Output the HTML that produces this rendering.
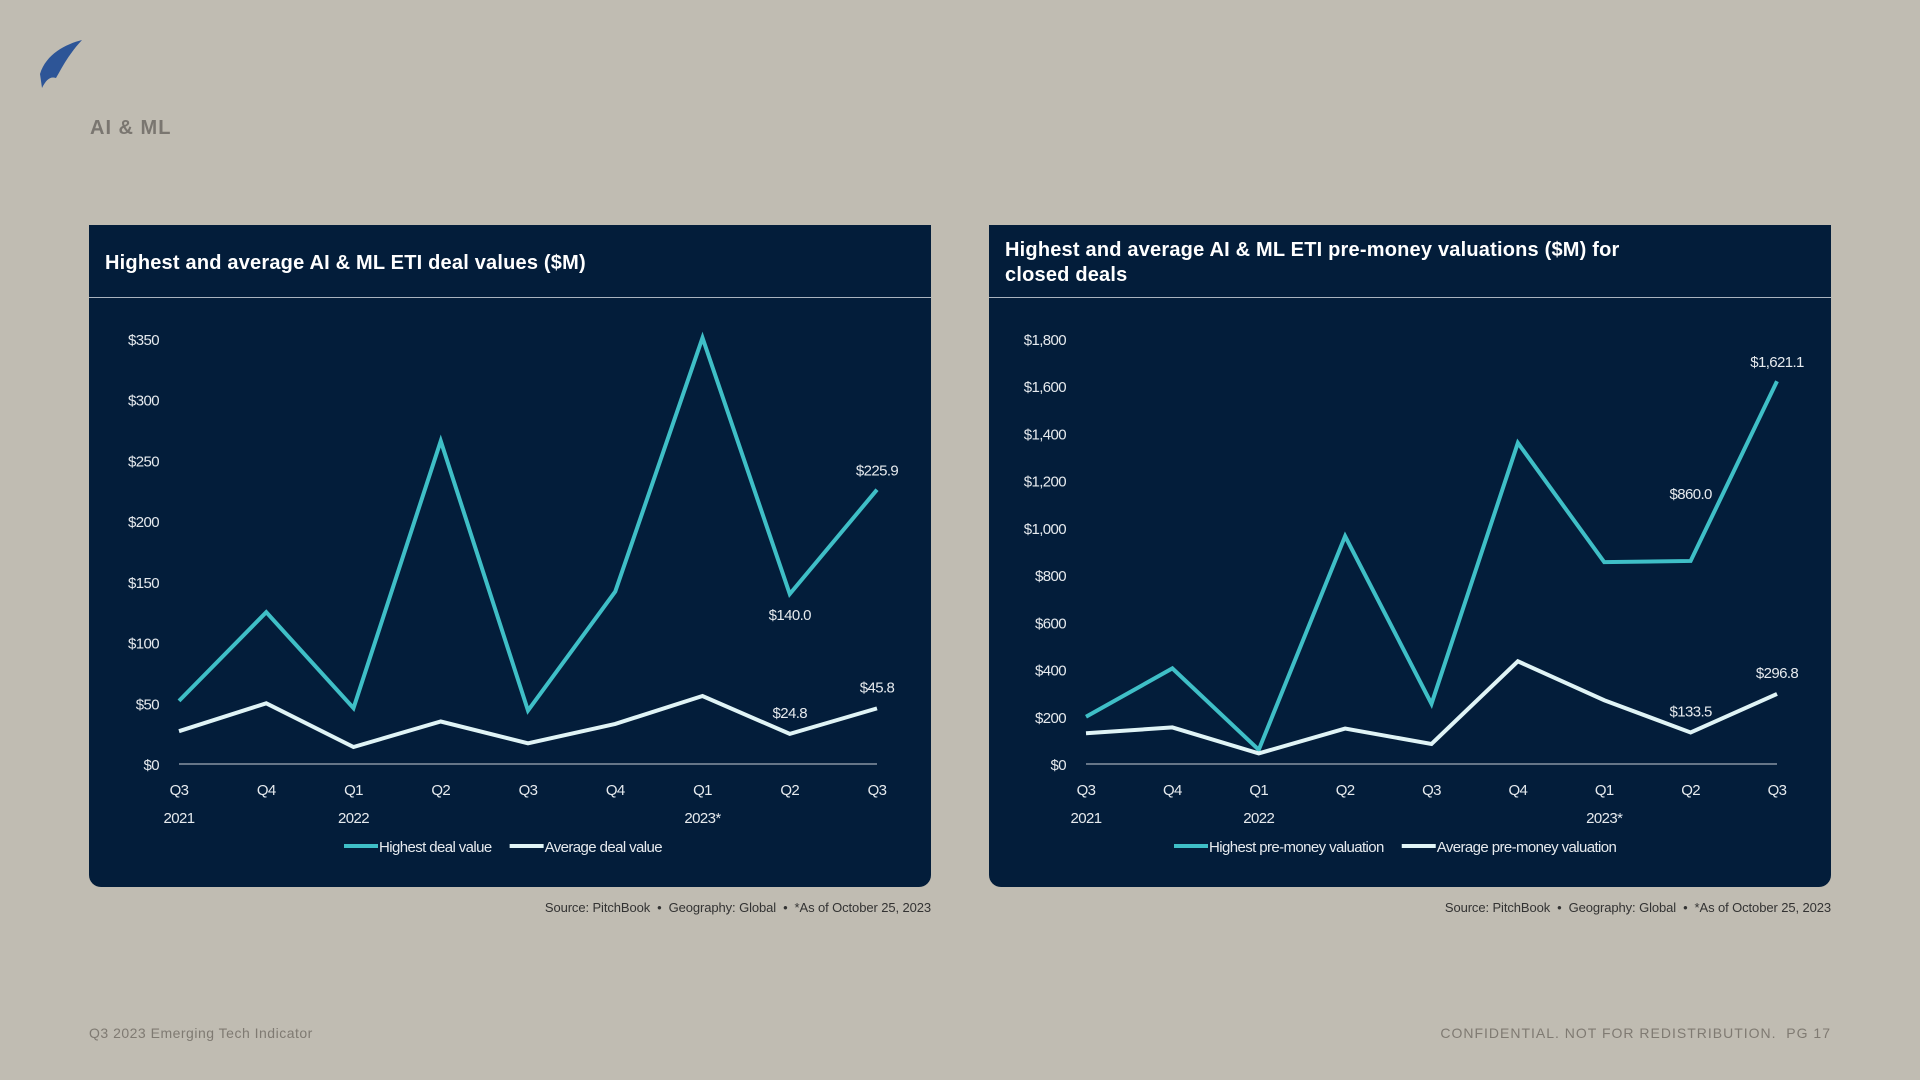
<!DOCTYPE html>
<html><head><meta charset="utf-8"><style>
body{margin:0;width:1920px;height:1080px;background:#c0bcb2;position:relative;overflow:hidden;font-family:"Liberation Sans",sans-serif}
.abs{position:absolute}
.panel{position:absolute;top:225px;width:842px;height:662px;background:#031d3a;border-radius:0 0 12px 12px}
.ptitle{position:absolute;left:16px;color:#fff;font-weight:bold;font-size:20px;line-height:25px;letter-spacing:0.2px}
.hline{position:absolute;left:0;right:0;top:72px;height:1px;background:#aab4bf}
.src{position:absolute;top:900px;font-size:13px;color:#333;text-align:right;width:842px;letter-spacing:-0.1px}
svg text{font-family:"Liberation Sans Narrow","Liberation Sans",sans-serif;letter-spacing:-0.6px}
</style></head><body>
<svg class="abs" style="left:36px;top:38px" width="50" height="52"><path d="M46 2 C30 6 10 16 4 36 L6 50 C10 42 14 38 20 40 C26 30 30 20 46 2Z" fill="#2d5597"/><path d="M44 6 C36 14 30 26 28 40" stroke="#c0bcb2" stroke-width="2" fill="none"/></svg>
<div class="abs" style="left:90px;top:117px;font-size:20px;font-weight:bold;color:#7a7670;letter-spacing:1px">AI &amp; ML</div>

<div class="panel" style="left:89px">
<div class="ptitle" style="top:26px">Highest and average AI &amp; ML ETI deal values ($M)</div>
<div class="hline"></div>
<svg id="c1" width="842" height="662" style="position:absolute;left:0;top:0"></svg>
</div>
<div class="src" style="left:89px">Source: PitchBook &nbsp;•&nbsp; Geography: Global &nbsp;•&nbsp; *As of October 25, 2023</div>

<div class="panel" style="left:989px">
<div class="ptitle" style="top:13px">Highest and average AI &amp; ML ETI pre-money valuations ($M) for<br>closed deals</div>
<div class="hline"></div>
<svg id="c2" width="842" height="662" style="position:absolute;left:0;top:0"></svg>
</div>
<div class="src" style="left:989px">Source: PitchBook &nbsp;•&nbsp; Geography: Global &nbsp;•&nbsp; *As of October 25, 2023</div>

<div class="abs" style="left:89px;top:1025px;font-size:14px;color:#7f7a72;letter-spacing:0.5px">Q3 2023 Emerging Tech Indicator</div>
<div class="abs" style="right:89px;top:1025px;font-size:14px;color:#7f7a72;letter-spacing:1px">CONFIDENTIAL. NOT FOR REDISTRIBUTION. &nbsp;PG 17</div>

<script>
const quarters=["Q3","Q4","Q1","Q2","Q3","Q4","Q1","Q2","Q3"];
const years=["2021","","2022","","","","2023*","",""];
const dealHighest=[52,125,46,266,44,142,351,140.0,225.9];
const dealAverage=[27,50,14,35,17,33,56,24.8,45.8];
const dealTicks=[0,50,100,150,200,250,300,350];
const valHighest=[200,405,60,965,255,1360,855,860.0,1621.1];
const valAverage=[130,155,45,150,85,435,270,133.5,296.8];
const valTicks=[0,200,400,600,800,1000,1200,1400,1600,1800];
const NS="http://www.w3.org/2000/svg";
function mk(svg,tag,attrs,txt){const e=document.createElementNS(NS,tag);for(const k in attrs)e.setAttribute(k,attrs[k]);if(txt!==undefined)e.textContent=txt;svg.appendChild(e);return e;}
function draw(id,hi,av,ticks,max,x0,x1,legendHi,legendAv,labels,legX){
 const svg=document.getElementById(id);
 const yB=539,yT=114;
 const y=v=>yB-(v/max)*(yB-yT);
 const x=i=>x0+i*(x1-x0)/(quarters.length-1);
 ticks.forEach(t=>{const e=mk(svg,'text',{x:x0-20,y:y(t)+6,'text-anchor':'end','font-size':15,fill:'#e6eaee'},'$'+t.toLocaleString('en-US'));
 
 });
 const ax=mk(svg,'line',{x1:x0,x2:x1,y1:yB,y2:yB,stroke:'#c8ced6','stroke-width':1});
 
 
 quarters.forEach((q,i)=>{const e=mk(svg,'text',{x:x(i),y:yB+31,'text-anchor':'middle','font-size':15,fill:'#e6eaee'},q);
 
 
 if(years[i]){const t=mk(svg,'text',{x:x(i),y:yB+59,'text-anchor':'middle','font-size':15,fill:'#e6eaee'},years[i]);
 
 }});
 [[hi,'#3fbfc7','highest-line'],[av,'#e0f4f6','average-line']].forEach(([d,c,n])=>{
  const p=mk(svg,'polyline',{points:d.map((v,i)=>x(i)+','+y(v)).join(' '),fill:'none',stroke:c,'stroke-width':4,'stroke-linejoin':'miter'});
  
  });
 labels.forEach(([arr,i,dy])=>{const v=arr[i];const e=mk(svg,'text',{x:x(i),y:y(v)+dy,'text-anchor':'middle','font-size':15,fill:'#e6eaee'},'$'+v.toLocaleString('en-US',{minimumFractionDigits:1,maximumFractionDigits:1}));
 
 });
 const ly=621;
 const l1=mk(svg,'line',{x1:legX,x2:legX+34,y1:ly,y2:ly,stroke:'#3fbfc7','stroke-width':4});
 
 
 const t1=mk(svg,'text',{x:legX+35,y:ly+6,'font-size':15,fill:'#e6eaee'},legendHi);
 
 
 const w=t1.getComputedTextLength();
 const l2=mk(svg,'line',{x1:legX+35+w+18,x2:legX+35+w+52,y1:ly,y2:ly,stroke:'#e0f4f6','stroke-width':4});
 
 
 const t2=mk(svg,'text',{x:legX+35+w+53,y:ly+6,'font-size':15,fill:'#e6eaee'},legendAv);
 
 
}
draw('c1',dealHighest,dealAverage,dealTicks,350,90,788,'Highest deal value','Average deal value',
 [[dealHighest,7,26],[dealHighest,8,-14],[dealAverage,7,-16],[dealAverage,8,-16]],255);
draw('c2',valHighest,valAverage,valTicks,1800,97,788,'Highest pre-money valuation','Average pre-money valuation',
 [[valHighest,7,-62],[valHighest,8,-14],[valAverage,7,-16],[valAverage,8,-16]],185);
</script>
</body></html>
